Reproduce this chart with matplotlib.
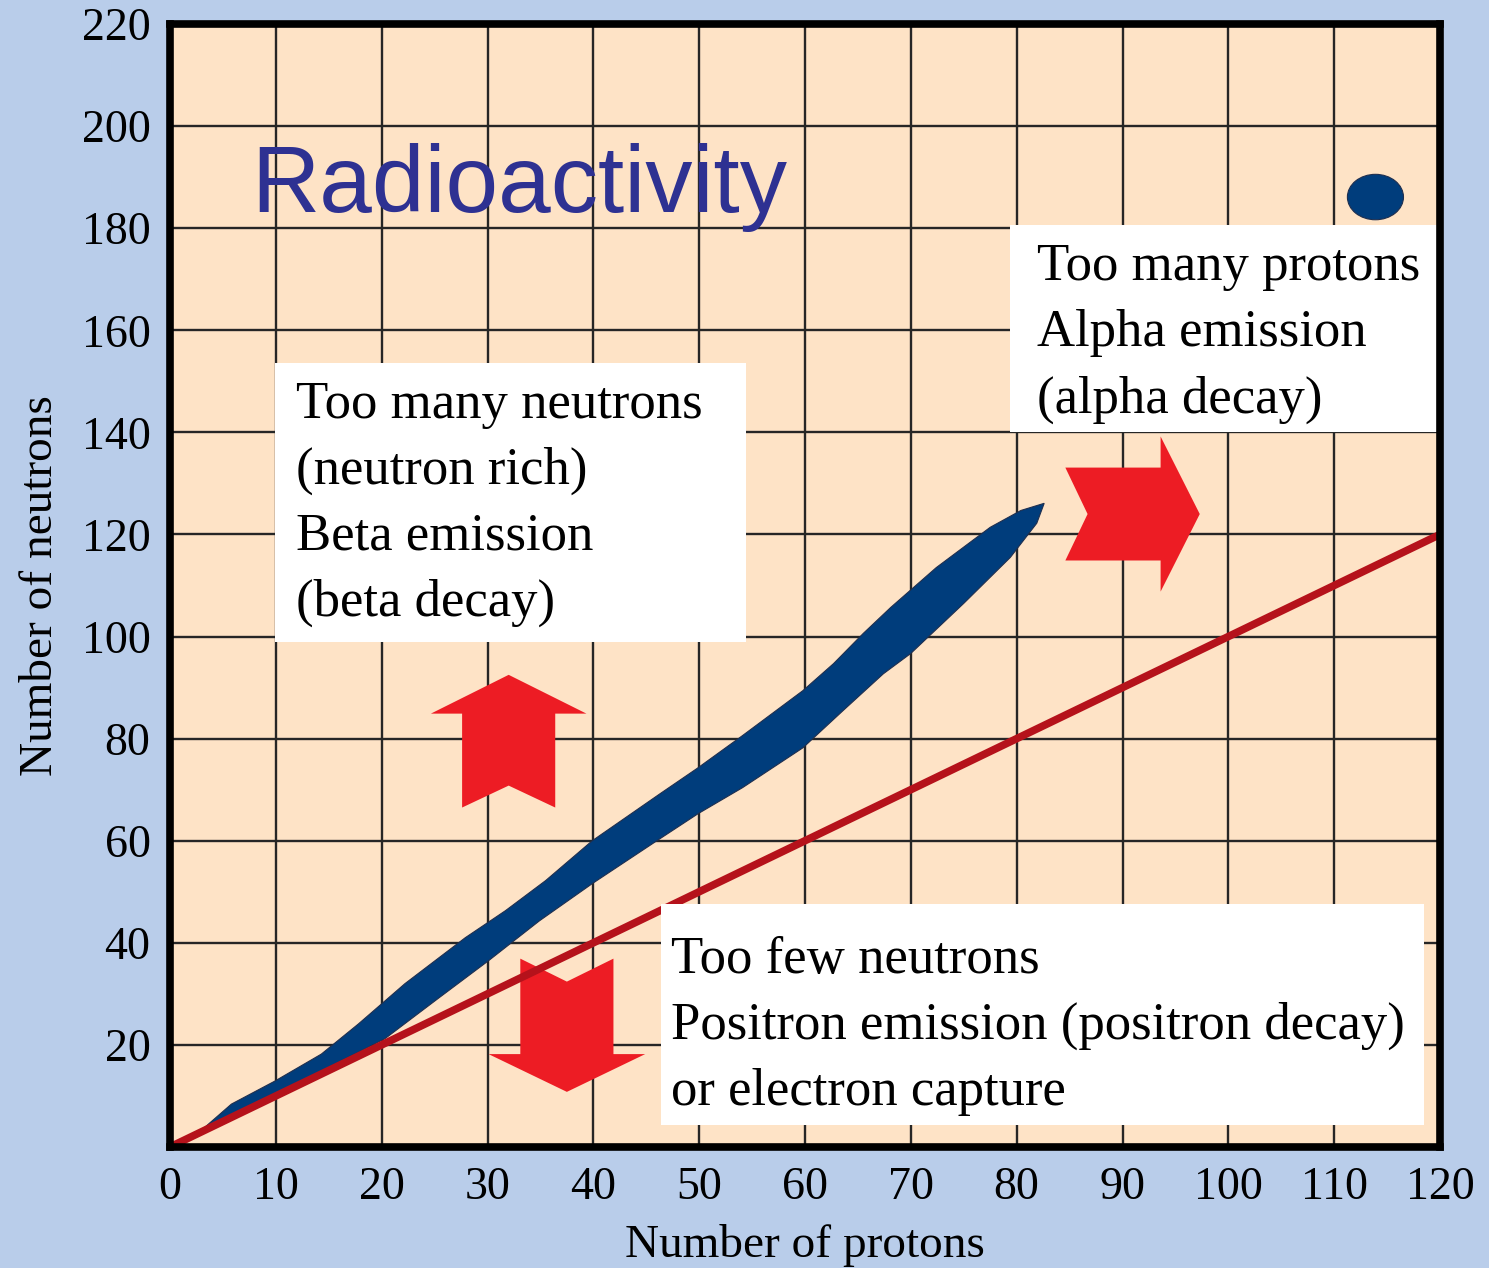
import numpy as np
import matplotlib.pyplot as plt
from matplotlib.patches import Ellipse, Rectangle, Polygon

# band of stable nuclei, traced edge (protons, neutrons)
UPPER_Z = [3.2, 5.8, 9.9, 14.3, 17.8, 22.2, 27.9, 31.7, 35.5, 39.9, 46.3, 49.9,
           54.1, 59.8, 62.7, 65.5, 68.1, 72.4, 77.5, 80.4, 82.6]
UPPER_N = [3.7, 8.4, 12.9, 18.2, 24.1, 32.0, 41.0, 46.3, 52.2, 60.0, 69.2, 74.3,
           80.6, 89.4, 94.7, 100.6, 105.7, 113.5, 121.4, 124.7, 126.1]
LOWER_Z = [3.2, 10.0, 20.3, 25.4, 30.1, 34.9, 39.9, 46.3, 49.9, 54.1, 59.8,
           63.6, 67.4, 70.0, 75.0, 79.4, 81.9, 82.6]
LOWER_N = [3.7, 10.4, 21.2, 29.2, 36.5, 44.3, 51.6, 60.4, 65.3, 70.4, 78.2,
           85.5, 92.7, 96.7, 106.5, 115.5, 122.2, 126.1]

# isolated stable island near Z=114
ISLAND_Z = 113.9
ISLAND_N = 186.1

# N = Z reference line
LINE_Z = [0, 120]
LINE_N = [0, 120]

X_TICKS = list(range(0, 121, 10))
Y_TICKS = list(range(20, 221, 20))

# text boxes: (left, bottom, right, top), text x, baselines, lines
BOXES = [
    ((9.95, 99.0, 54.4, 153.5), 11.9, [142.9, 130.0, 117.1, 104.1],
     ["Too many neutrons", "(neutron rich)", "Beta emission", "(beta decay)"]),
    ((79.4, 140.0, 120.0, 180.6), 81.9, [169.8, 156.9, 143.9],
     ["Too many protons", "Alpha emission", "(alpha decay)"]),
    ((46.4, 4.4, 118.5, 47.6), 47.3, [34.1, 21.2, 8.2],
     ["Too few neutrons", "Positron emission (positron decay)", "or electron capture"]),
]

# block arrows: direction, cross centre, tail, notch, head base, tip, shaft half, head half
ARROWS = [
    ("up", 32.0, 66.5, 70.8, 84.9, 92.5, 4.4, 7.35),
    ("down", 37.5, 36.9, 32.4, 18.2, 10.8, 4.4, 7.4),
    ("right", 124.0, 84.6, 86.7, 93.6, 97.3, 9.1, 15.2),
]

BG = "#b9cdea"
PEACH = "#fee3c6"
NAVY = "#003d7c"
DARKRED = "#b5121b"
RED = "#ed1c24"
SERIF = "Liberation Serif"


def arrow_shape(d, c, tail, notch, hb, tip, w, h):
    pts = [(tail, -w), (notch, 0), (tail, w), (hb, w), (hb, h),
           (tip, 0), (hb, -h), (hb, -w)]
    if d == "right":
        return [(a, c + b) for a, b in pts]
    return [(c + b, a) for a, b in pts]


fig = plt.figure(figsize=(14.89, 12.68), dpi=100)
fig.patch.set_facecolor(BG)
ax = fig.add_axes([170 / 1489, 1 - 1147 / 1268, 1270 / 1489, 1123 / 1268])
ax.set_facecolor(PEACH)
ax.set_xlim(0, 120)
ax.set_ylim(0, 220)

ax.set_xticks(X_TICKS)
ax.set_yticks(Y_TICKS)
ax.grid(True, color="#262626", linewidth=1.7, zorder=0)
ax.set_axisbelow(True)
ax.tick_params(length=0, labelsize=33)
ax.tick_params(axis="x", pad=14)
ax.tick_params(axis="y", pad=14)
for lab in ax.get_xticklabels() + ax.get_yticklabels():
    lab.set_family(SERIF)
for sp in ax.spines.values():
    sp.set_linewidth(5.5)
    sp.set_color("black")
    sp.set_zorder(20)

ax.set_xlabel("Number of protons", family=SERIF, fontsize=34, labelpad=11)
ax.set_ylabel("Number of neutrons", family=SERIF, fontsize=34, labelpad=14)

# stability band
bx = np.concatenate([UPPER_Z, LOWER_Z[::-1]])
by = np.concatenate([UPPER_N, LOWER_N[::-1]])
ax.fill(bx, by, color=NAVY, ec="#1f2f4f", lw=0.8, zorder=3)
ax.add_patch(Ellipse((ISLAND_Z, ISLAND_N), 5.3, 8.9, angle=0,
                     color=NAVY, ec="#1f2f4f", lw=0.8, zorder=3))

for spec in ARROWS:
    ax.add_patch(Polygon(arrow_shape(*spec), closed=True, color=RED, lw=0, zorder=4))

ax.plot(LINE_Z, LINE_N, color=DARKRED, lw=5.5, solid_capstyle="butt", zorder=5)

for (x0, y0, x1, y1), tx, bases, lines in BOXES:
    ax.add_patch(Rectangle((x0, y0), x1 - x0, y1 - y0, color="white", lw=0, zorder=6))
    for yb, s in zip(bases, lines):
        ax.text(tx, yb, s, family=SERIF, fontsize=38, va="baseline", ha="left", zorder=7)

ax.text(7.7, 183.1, "Radioactivity", family="Liberation Sans", fontsize=68,
        color="#2e3192", va="baseline", ha="left", zorder=7)

fig.savefig("out.png", dpi=100, facecolor=BG)
